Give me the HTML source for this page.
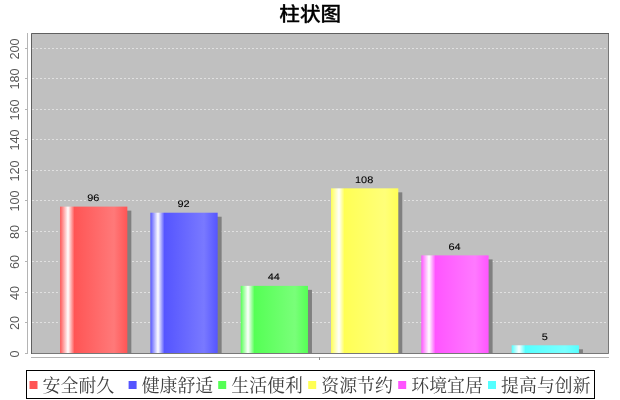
<!DOCTYPE html>
<html lang="zh"><head><meta charset="utf-8"><title>柱状图</title>
<style>
html,body{margin:0;padding:0;background:#fff;}
body{width:620px;height:400px;overflow:hidden;position:relative;}
svg{position:absolute;left:0;top:0;display:block;}
.title{font-family:"Liberation Sans","Noto Sans CJK SC",sans-serif;font-weight:500;font-size:20px;fill:#000;}
.tick{font-family:"Liberation Sans",sans-serif;font-size:12.7px;fill:#555;}
.val{font-family:"Liberation Sans",sans-serif;font-size:10px;fill:#000;}
.leg{font-family:"Liberation Serif","Noto Serif CJK SC",serif;font-size:17.9px;fill:#404040;}
</style></head><body>
<svg width="620" height="400" viewBox="0 0 620 400">
<defs>
<linearGradient id="g0" gradientUnits="userSpaceOnUse" x1="60.08" x2="127.33" y1="0" y2="0"><stop offset="0" stop-color="rgb(255,85,85)"/><stop offset="0.1178" stop-color="#fff"/><stop offset="0.2145" stop-color="rgb(255,85,85)"/><stop offset="0.8018" stop-color="rgb(255,121,121)"/><stop offset="1" stop-color="rgb(255,85,85)"/></linearGradient>
<linearGradient id="g1" gradientUnits="userSpaceOnUse" x1="150.39" x2="217.65" y1="0" y2="0"><stop offset="0" stop-color="rgb(85,85,255)"/><stop offset="0.1131" stop-color="#fff"/><stop offset="0.2097" stop-color="rgb(85,85,255)"/><stop offset="0.7970" stop-color="rgb(121,121,255)"/><stop offset="1" stop-color="rgb(85,85,255)"/></linearGradient>
<linearGradient id="g2" gradientUnits="userSpaceOnUse" x1="240.71" x2="307.97" y1="0" y2="0"><stop offset="0" stop-color="rgb(85,255,85)"/><stop offset="0.1084" stop-color="#fff"/><stop offset="0.2050" stop-color="rgb(85,255,85)"/><stop offset="0.8072" stop-color="rgb(121,255,121)"/><stop offset="1" stop-color="rgb(85,255,85)"/></linearGradient>
<linearGradient id="g3" gradientUnits="userSpaceOnUse" x1="331.03" x2="398.29" y1="0" y2="0"><stop offset="0" stop-color="rgb(255,255,85)"/><stop offset="0.1185" stop-color="#fff"/><stop offset="0.2003" stop-color="rgb(255,255,85)"/><stop offset="0.8024" stop-color="rgb(255,255,121)"/><stop offset="1" stop-color="rgb(255,255,85)"/></linearGradient>
<linearGradient id="g4" gradientUnits="userSpaceOnUse" x1="421.35" x2="488.61" y1="0" y2="0"><stop offset="0" stop-color="rgb(255,85,255)"/><stop offset="0.1138" stop-color="#fff"/><stop offset="0.2104" stop-color="rgb(255,85,255)"/><stop offset="0.7977" stop-color="rgb(255,121,255)"/><stop offset="1" stop-color="rgb(255,85,255)"/></linearGradient>
<linearGradient id="g5" gradientUnits="userSpaceOnUse" x1="511.67" x2="578.92" y1="0" y2="0"><stop offset="0" stop-color="rgb(85,255,255)"/><stop offset="0.1090" stop-color="#fff"/><stop offset="0.2057" stop-color="rgb(85,255,255)"/><stop offset="0.7930" stop-color="rgb(121,255,255)"/><stop offset="1" stop-color="rgb(85,255,255)"/></linearGradient>
</defs>
<rect x="0" y="0" width="620" height="400" fill="#fff"/>
<text class="title" transform="translate(310.2,20.8) scale(1.03,0.945)" x="0" y="0" text-anchor="middle" stroke="#000" stroke-width="0.3">柱状图</text>
<rect x="31" y="33" width="578" height="321" fill="#c0c0c0"/>
<line x1="32" x2="608" y1="322.5" y2="322.5" stroke="#fff" stroke-width="1" stroke-dasharray="2 2" stroke-opacity="0.5"/>
<line x1="32" x2="608" y1="292.5" y2="292.5" stroke="#fff" stroke-width="1" stroke-dasharray="2 2" stroke-opacity="0.5"/>
<line x1="32" x2="608" y1="261.5" y2="261.5" stroke="#fff" stroke-width="1" stroke-dasharray="2 2" stroke-opacity="0.5"/>
<line x1="32" x2="608" y1="231.5" y2="231.5" stroke="#fff" stroke-width="1" stroke-dasharray="2 2" stroke-opacity="0.5"/>
<line x1="32" x2="608" y1="200.5" y2="200.5" stroke="#fff" stroke-width="1" stroke-dasharray="2 2" stroke-opacity="0.5"/>
<line x1="32" x2="608" y1="170.5" y2="170.5" stroke="#fff" stroke-width="1" stroke-dasharray="2 2" stroke-opacity="0.5"/>
<line x1="32" x2="608" y1="139.5" y2="139.5" stroke="#fff" stroke-width="1" stroke-dasharray="2 2" stroke-opacity="0.5"/>
<line x1="32" x2="608" y1="109.5" y2="109.5" stroke="#fff" stroke-width="1" stroke-dasharray="2 2" stroke-opacity="0.5"/>
<line x1="32" x2="608" y1="78.5" y2="78.5" stroke="#fff" stroke-width="1" stroke-dasharray="2 2" stroke-opacity="0.5"/>
<line x1="32" x2="608" y1="48.5" y2="48.5" stroke="#fff" stroke-width="1" stroke-dasharray="2 2" stroke-opacity="0.5"/>
<rect x="64.08" y="210.61" width="67.26" height="142.89" fill="#808080"/>
<rect x="60.08" y="206.61" width="67.26" height="146.89" fill="url(#g0)"/>
<text class="val" transform="translate(93.20,201.01) scale(1.09,0.95) rotate(0.03)" text-anchor="middle" stroke="#000" stroke-width="0.1">96</text>
<rect x="154.39" y="216.71" width="67.26" height="136.79" fill="#808080"/>
<rect x="150.39" y="212.71" width="67.26" height="140.79" fill="url(#g1)"/>
<text class="val" transform="translate(183.52,207.11) scale(1.09,0.95) rotate(0.03)" text-anchor="middle" stroke="#000" stroke-width="0.1">92</text>
<rect x="244.71" y="289.85" width="67.26" height="63.65" fill="#808080"/>
<rect x="240.71" y="285.85" width="67.26" height="67.65" fill="url(#g2)"/>
<text class="val" transform="translate(273.84,280.25) scale(1.09,0.95) rotate(0.03)" text-anchor="middle" stroke="#000" stroke-width="0.1">44</text>
<rect x="335.03" y="192.33" width="67.26" height="161.17" fill="#808080"/>
<rect x="331.03" y="188.33" width="67.26" height="165.17" fill="url(#g3)"/>
<text class="val" transform="translate(364.16,182.73) scale(1.09,0.95) rotate(0.03)" text-anchor="middle" stroke="#000" stroke-width="0.1">108</text>
<rect x="425.35" y="259.38" width="67.26" height="94.12" fill="#808080"/>
<rect x="421.35" y="255.38" width="67.26" height="98.12" fill="url(#g4)"/>
<text class="val" transform="translate(454.48,249.78) scale(1.09,0.95) rotate(0.03)" text-anchor="middle" stroke="#000" stroke-width="0.1">64</text>
<rect x="515.67" y="349.28" width="67.26" height="4.22" fill="#808080"/>
<rect x="511.67" y="345.28" width="67.26" height="8.22" fill="url(#g5)"/>
<text class="val" transform="translate(544.80,339.68) scale(1.09,0.95) rotate(0.03)" text-anchor="middle" stroke="#000" stroke-width="0.1">5</text>
<path d="M608.5 33.5V353.5H31.5" fill="none" stroke="#787878" stroke-width="1"/>
<path d="M31.5 354V33.5H609" fill="none" stroke="#606060" stroke-width="1"/>
<line x1="27.5" x2="27.5" y1="33" y2="354" stroke="#b4b4b4" stroke-width="1"/>
<line x1="31" x2="609" y1="357.5" y2="357.5" stroke="#b4b4b4" stroke-width="1"/>
<line x1="319.5" x2="319.5" y1="357" y2="360" stroke="#8c8c8c" stroke-width="1"/>
<line x1="25" x2="28" y1="353.5" y2="353.5" stroke="#b4b4b4" stroke-width="1"/>
<text class="tick" transform="translate(19.4,354.0) rotate(-90)" text-anchor="middle">0</text>
<line x1="25" x2="28" y1="322.5" y2="322.5" stroke="#b4b4b4" stroke-width="1"/>
<text class="tick" transform="translate(19.4,323.0) rotate(-90)" text-anchor="middle">20</text>
<line x1="25" x2="28" y1="292.5" y2="292.5" stroke="#b4b4b4" stroke-width="1"/>
<text class="tick" transform="translate(19.4,293.0) rotate(-90)" text-anchor="middle">40</text>
<line x1="25" x2="28" y1="261.5" y2="261.5" stroke="#b4b4b4" stroke-width="1"/>
<text class="tick" transform="translate(19.4,262.0) rotate(-90)" text-anchor="middle">60</text>
<line x1="25" x2="28" y1="231.5" y2="231.5" stroke="#b4b4b4" stroke-width="1"/>
<text class="tick" transform="translate(19.4,232.0) rotate(-90)" text-anchor="middle">80</text>
<line x1="25" x2="28" y1="200.5" y2="200.5" stroke="#b4b4b4" stroke-width="1"/>
<text class="tick" transform="translate(19.4,201.0) rotate(-90)" text-anchor="middle">100</text>
<line x1="25" x2="28" y1="170.5" y2="170.5" stroke="#b4b4b4" stroke-width="1"/>
<text class="tick" transform="translate(19.4,171.0) rotate(-90)" text-anchor="middle">120</text>
<line x1="25" x2="28" y1="139.5" y2="139.5" stroke="#b4b4b4" stroke-width="1"/>
<text class="tick" transform="translate(19.4,140.0) rotate(-90)" text-anchor="middle">140</text>
<line x1="25" x2="28" y1="109.5" y2="109.5" stroke="#b4b4b4" stroke-width="1"/>
<text class="tick" transform="translate(19.4,110.0) rotate(-90)" text-anchor="middle">160</text>
<line x1="25" x2="28" y1="78.5" y2="78.5" stroke="#b4b4b4" stroke-width="1"/>
<text class="tick" transform="translate(19.4,79.0) rotate(-90)" text-anchor="middle">180</text>
<line x1="25" x2="28" y1="48.5" y2="48.5" stroke="#b4b4b4" stroke-width="1"/>
<text class="tick" transform="translate(19.4,49.0) rotate(-90)" text-anchor="middle">200</text>
<rect x="26.5" y="370.5" width="568" height="28" fill="#fff" stroke="#000" stroke-width="1"/>
<rect x="29.5" y="381" width="8" height="8" fill="rgb(255,85,85)"/>
<text class="leg" x="42.6" y="391.5">安全耐久</text>
<rect x="128.6" y="381" width="8" height="8" fill="rgb(85,85,255)"/>
<text class="leg" x="141.7" y="391.5">健康舒适</text>
<rect x="218.2" y="381" width="8" height="8" fill="rgb(85,255,85)"/>
<text class="leg" x="231.3" y="391.5">生活便利</text>
<rect x="308.2" y="381" width="8" height="8" fill="rgb(255,255,85)"/>
<text class="leg" x="321.3" y="391.5">资源节约</text>
<rect x="398.2" y="381" width="8" height="8" fill="rgb(255,85,255)"/>
<text class="leg" x="411.3" y="391.5">环境宜居</text>
<rect x="488.0" y="381" width="8" height="8" fill="rgb(85,255,255)"/>
<text class="leg" x="501.1" y="391.5">提高与创新</text>
</svg></body></html>
